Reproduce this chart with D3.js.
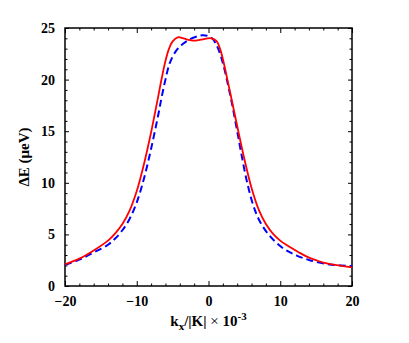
<!DOCTYPE html>
<html lang="en">
<head>
<meta charset="UTF-8">
<title>Delta E vs kx</title>
<script src="https://d3js.org/d3.v7.min.js"></script>
<style>
    body { margin: 0; background: #fff; }
    svg { font-family: "Liberation Serif", "Times New Roman", serif; font-weight: bold; }
    .axis path { display: none; }
    .axis line { stroke: #000; stroke-width: 1; }
    .axis text { font-family: "Liberation Serif", "Times New Roman", serif; font-size: 14px; font-weight: bold; fill: #000; }
</style>
</head>
<body>
<div id="chart"></div>
<script>
    // red solid curve
    const redK = [-20, -18, -16, -14, -13, -12, -11, -10, -9, -8, -7, -6.5, -6, -5.5, -5, -4.3,
                  -3.5, -2.8, -2.1, -1.2, -0.3, 0.4, 1.1, 1.6, 2, 3, 4, 5, 6, 7, 8, 9, 10,
                  11.4, 12.5, 13.7, 15, 16, 18.3, 20];
    const redE = [2.1, 2.65, 3.45, 4.4, 5.1, 6.0, 7.3, 9.2, 11.8, 14.9, 18.4, 20.2, 21.8, 23.0, 23.7, 24.1,
                  24.0, 23.85, 23.77, 23.85, 23.97, 24.0, 23.75, 23.0, 22.0, 18.8, 15.5, 12.3, 9.5, 7.4, 6.0, 5.05, 4.4,
                  3.75, 3.3, 2.85, 2.5, 2.27, 1.97, 1.8];

    // blue dashed curve
    const blueK = [-20, -18, -16, -14, -13, -12, -11, -10, -9, -8, -7, -6.5, -6, -5.4, -4.5,
                   -3.5, -2.5, -1.5, -0.9, -0.2, 0.5, 1, 1.4, 2, 3, 4, 4.5, 5.3, 6.2, 7.2, 8.6, 10.4, 12.3,
                   14.1, 16.5, 18.5, 20];
    const blueE = [2.05, 2.55, 3.25, 4.0, 4.6, 5.4, 6.5, 8.1, 10.4, 13.3, 16.6, 18.4, 20.0, 21.6, 22.8,
                   23.5, 23.95, 24.2, 24.3, 24.25, 24.0, 23.5, 22.9, 21.6, 18.6, 15.0, 13.1, 10.3, 7.9, 6.2, 4.8, 3.65, 2.95,
                   2.5, 2.12, 1.99, 1.94];

    const xMajor = [-20, -10, 0, 10, 20];
    const yMajor = [0, 5, 10, 15, 20, 25];

    const W = 409, H = 343;
    const margin = {left: 65, right: 57, top: 28, bottom: 57};
    const width = W - margin.left - margin.right;
    const height = H - margin.top - margin.bottom;

    const svg = d3.select("#chart").append("svg")
        .attr("width", W).attr("height", H);
    const g = svg.append("g")
        .attr("transform", `translate(${margin.left},${margin.top})`);

    const x = d3.scaleLinear().domain([-20, 20]).range([0, width]);
    const y = d3.scaleLinear().domain([0, 25]).range([height, 0]);

    const xMinor = d3.range(-20, 20.1, 2).filter(v => !xMajor.includes(v));
    const yMinor = d3.range(0, 25.1, 1).filter(v => !yMajor.includes(v));

    // bottom
    g.append("g").attr("class", "axis").attr("transform", `translate(0,${height})`)
        .call(d3.axisBottom(x).tickValues(xMajor).tickSize(-5).tickPadding(10).tickFormat(d3.format("d")));
    g.append("g").attr("class", "axis").attr("transform", `translate(0,${height})`)
        .call(d3.axisBottom(x).tickValues(xMinor).tickSize(-2.5).tickFormat(""));
    // top
    g.append("g").attr("class", "axis")
        .call(d3.axisTop(x).tickValues(xMajor).tickSize(-5).tickFormat(""));
    g.append("g").attr("class", "axis")
        .call(d3.axisTop(x).tickValues(xMinor).tickSize(-2.5).tickFormat(""));
    // left
    g.append("g").attr("class", "axis")
        .call(d3.axisLeft(y).tickValues(yMajor).tickSize(-4).tickPadding(10));
    g.append("g").attr("class", "axis")
        .call(d3.axisLeft(y).tickValues(yMinor).tickSize(-2.5).tickFormat(""));
    // right
    g.append("g").attr("class", "axis").attr("transform", `translate(${width},0)`)
        .call(d3.axisRight(y).tickValues(yMajor).tickSize(-4).tickFormat(""));
    g.append("g").attr("class", "axis").attr("transform", `translate(${width},0)`)
        .call(d3.axisRight(y).tickValues(yMinor).tickSize(-2.5).tickFormat(""));

    g.append("rect")
        .attr("width", width).attr("height", height)
        .attr("fill", "none").attr("stroke", "#000").attr("stroke-width", 1.5);

    const line = d3.line()
        .x(d => x(d[0]))
        .y(d => y(d[1]))
        .curve(d3.curveCatmullRom);

    g.append("path")
        .datum(d3.zip(blueK, blueE))
        .attr("fill", "none")
        .attr("stroke", "#0000ff")
        .attr("stroke-width", 2)
        .attr("stroke-dasharray", "7,4")
        .attr("d", line);

    g.append("path")
        .datum(d3.zip(redK, redE))
        .attr("fill", "none")
        .attr("stroke", "#ff0000")
        .attr("stroke-width", 1.8)
        .attr("d", line);

    // x label
    const xl = svg.append("text")
        .attr("x", margin.left + width / 2)
        .attr("y", 326)
        .attr("text-anchor", "middle")
        .style("font-size", "15px");
    xl.append("tspan").text("k");
    xl.append("tspan").attr("dy", 4).style("font-size", "11px").text("x");
    xl.append("tspan").attr("dy", -4).text("/|K|");
    xl.append("tspan").style("font-weight", "normal").text(" \u00d7 ");
    xl.append("tspan").text("10");
    xl.append("tspan").attr("dy", -6).style("font-size", "11px").text("-3");

    // y label
    svg.append("text")
        .attr("transform", `translate(29,${margin.top + height / 2}) rotate(-90)`)
        .attr("text-anchor", "middle")
        .style("font-size", "15px")
        .text("\u0394E (\u03bceV)");
</script>
</body>
</html>
